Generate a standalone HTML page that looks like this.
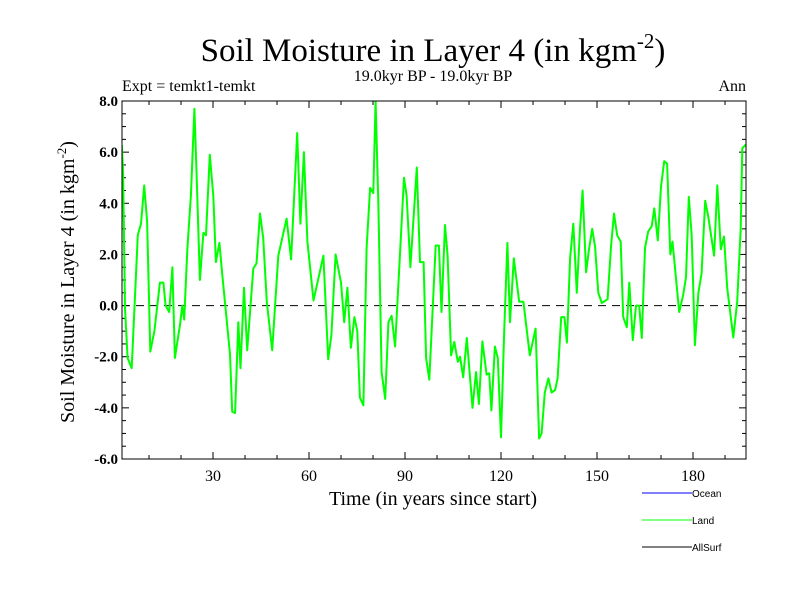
<!DOCTYPE html>
<html><head><meta charset="utf-8"><style>
body{margin:0;background:#fff;width:800px;height:600px;overflow:hidden}
svg{display:block}
.serif{font-family:"Liberation Serif",serif}
.sans{font-family:"Liberation Sans",sans-serif}
</style></head><body>
<svg id="chart" width="800" height="600" xmlns="http://www.w3.org/2000/svg">
<text class="serif" x="433" y="61" font-size="33" text-anchor="middle">Soil Moisture in Layer 4 (in kgm<tspan dy="-13" font-size="21">-2</tspan><tspan dy="13">)</tspan></text>
<text class="serif" x="433" y="81" font-size="16" text-anchor="middle">19.0kyr BP - 19.0kyr BP</text>
<text class="serif" x="122" y="91" font-size="16">Expt = temkt1-temkt</text>
<text class="serif" x="746" y="91" font-size="16" text-anchor="end">Ann</text>
<text class="serif" x="433" y="505" font-size="20" text-anchor="middle">Time (in years since start)</text>
<text class="serif" transform="translate(74,282) rotate(-90)" font-size="20" text-anchor="middle">Soil Moisture in Layer 4 (in kgm<tspan dy="-8" font-size="13">-2</tspan><tspan dy="8">)</tspan></text>
<defs><clipPath id="clip"><rect x="122" y="101" width="624" height="358"/></clipPath></defs>
<g id="axes"></g>
<line x1="122" y1="305.6" x2="746" y2="305.6" stroke="#000" stroke-dasharray="8,6" stroke-width="1"/>
<g clip-path="url(#clip)"><path id="land" fill="none" stroke="#00ff00" stroke-width="2" stroke-linejoin="round"/></g>
<rect x="122" y="101" width="624" height="358" fill="none" stroke="#000" stroke-width="1"/>
<g>
<line x1="642" y1="493" x2="692" y2="493" stroke="#0000ff" stroke-width="1"/>
<text class="sans" x="692" y="497" font-size="10">Ocean</text>
<line x1="642" y1="520" x2="692" y2="520" stroke="#00ff00" stroke-width="1"/>
<text class="sans" x="692" y="524" font-size="10">Land</text>
<line x1="642" y1="547" x2="692" y2="547" stroke="#000" stroke-width="1"/>
<text class="sans" x="692" y="551" font-size="10">AllSurf</text>
</g>
</svg>
<script>
const years=[1.5,1.9,2.5,3.3,4.6,6.5,7.5,8.5,9.4,10.4,11.7,13.4,14.5,15.2,16.3,17.3,18.1,19.7,20.4,21,22,23.1,24.2,24.9,25.9,27,27.8,29,30.1,30.9,32,32.9,35.3,36,36.9,37.9,38.6,39.7,40.7,42.6,43.6,44.7,45.7,46.8,48.5,50.4,53,54.4,56.3,57.3,58.4,59.5,61.4,64.5,66,67,68.3,70,71,72,73.1,74.2,75.1,75.9,77,78,79.1,80.1,80.8,81.7,82.7,83.8,84.8,85.8,86.9,89.7,90.5,91.7,93.7,94.7,95.8,96.6,97.6,99.6,100.6,101.4,102.5,103.3,104.4,105.4,106.5,107.2,108.2,109.3,111.1,112.2,113.1,114.2,115.5,116.3,117,118.1,119,120,121,122,122.8,124,125.7,127,129,130.8,131.9,132.7,133.7,134.8,135.8,136.9,137.7,138.8,139.8,140.6,141.6,142.6,143.7,144.7,145.5,146.6,147.5,148.5,149.4,150.4,151.5,153.3,154.4,155.3,156.3,157.4,158.2,159.3,160.1,161.2,162.2,163.2,164,165,166,167.1,167.9,169,170,171,171.9,172.9,173.6,175.7,176.9,177.8,178.7,179.6,180.6,181.7,182.7,183.8,184.8,186.6,187.6,188.7,189.7,190.7,192.6,193.8,194.9,195.4,196.5];
const landValues=[6.28,5.2,-0.1,-2.05,-2.45,2.76,3.2,4.7,3.3,-1.8,-1.0,0.9,0.9,0,-0.25,1.5,-2.05,-0.75,0,-0.55,2.25,4.3,7.7,5.0,1.0,2.85,2.75,5.9,4.3,1.7,2.45,1.2,-1.9,-4.15,-4.2,-0.65,-2.45,0.7,-1.75,1.45,1.65,3.6,2.65,0.15,-1.75,1.95,3.4,1.8,6.75,3.2,6.0,2.5,0.2,1.95,-2.1,-1.15,2.0,0.9,-0.65,0.7,-1.65,-0.45,-1.0,-3.6,-3.9,2.25,4.6,4.4,8.0,3.9,-2.6,-3.65,-0.65,-0.4,-1.6,5.0,4.3,1.5,5.4,1.7,1.7,-2.05,-2.9,2.35,2.35,-0.25,3.15,1.95,-1.95,-1.42,-2.2,-2.0,-2.8,-1.27,-4.0,-2.6,-3.85,-1.4,-2.7,-2.65,-4.1,-1.6,-2.05,-5.15,-1.0,2.45,-0.65,1.85,0.15,0.15,-1.95,-0.9,-5.2,-5.0,-3.4,-2.85,-3.4,-3.3,-2.85,-0.45,-0.45,-1.45,1.85,3.2,0.5,3.0,4.5,1.3,2.2,3.0,2.3,0.5,0.1,0.25,2.35,3.6,2.75,2.5,-0.45,-0.85,0.9,-1.35,0,0,-1.27,2.25,2.9,3.1,3.8,2.55,4.65,5.65,5.55,2.0,2.5,-0.25,0.4,1.1,4.25,2.75,-1.55,0.5,1.27,4.1,3.45,1.95,4.7,2.2,2.7,0.7,-1.25,0.15,3.0,6.15,6.3];
const yTicks=[-6,-4,-2,0,2,4,6,8];
const yTickLabels=["-6.0","-4.0","-2.0","0.0","2.0","4.0","6.0","8.0"];
const xTicks=[30,60,90,120,150,180];
const xTickLabels=["30","60","90","120","150","180"];

const X0=122,X1=746,Y0=459,Y1=101;
const xmin=(X0-117)/3.2,xmax=(X1-117)/3.2;
function xs(v){return X0+(v-xmin)/(xmax-xmin)*(X1-X0);}
function ys(v){return Y0-(v-(-6))/14*(Y0-Y1);}
const NS="http://www.w3.org/2000/svg";
const axes=document.getElementById('axes');
function ln(x1,y1,x2,y2,name){const l=document.createElementNS(NS,'line');l.setAttribute('x1',x1);l.setAttribute('y1',y1);l.setAttribute('x2',x2);l.setAttribute('y2',y2);l.setAttribute('stroke','#000');l.setAttribute('stroke-width','1');


axes.appendChild(l);}
function tx(x,y,s,anchor,name,size,weight){const t=document.createElementNS(NS,'text');t.setAttribute('x',x);t.setAttribute('y',y);t.setAttribute('text-anchor',anchor);t.setAttribute('font-size',size);t.setAttribute('font-family','"Liberation Serif",serif');if(weight)t.setAttribute('font-weight',weight);t.textContent=s;


axes.appendChild(t);}
for(let v=-6;v<=8.001;v+=0.5){const y=ys(v);const major=Math.abs(v/2-Math.round(v/2))<1e-6;const L=major?7:4;ln(X0,y,X0+L,y,'y-tick');ln(X1-L,y,X1,y,'y-tick-right');}
yTicks.forEach((v,i)=>tx(X0-4,ys(v)+5,yTickLabels[i],'end','y-tick-label',15,'bold'));
for(let v=10;v<=xmax;v+=10){const x=xs(v);const major=v%30===0;const L=major?7:4;ln(x,Y0,x,Y0-L,'x-tick');ln(x,Y1,x,Y1+L,'x-tick-top');}
xTicks.forEach((v,i)=>tx(xs(v),Y0+22,xTickLabels[i],'middle','x-tick-label',16));
let d='';years.forEach((yr,i)=>{d+=(i?'L':'M')+xs(yr).toFixed(1)+','+ys(landValues[i]).toFixed(1);});
document.getElementById('land').setAttribute('d',d);
</script>
</body></html>
